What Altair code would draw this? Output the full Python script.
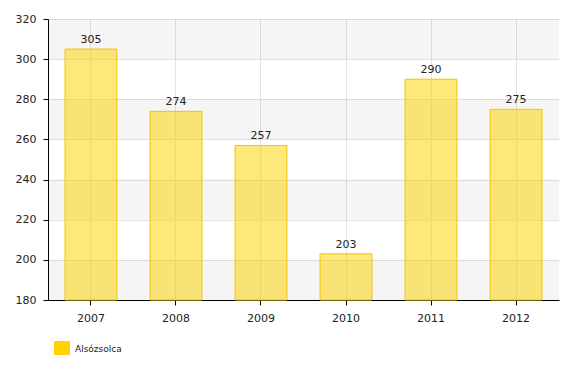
import altair as alt
import pandas as pd

years = ["2007", "2008", "2009", "2010", "2011", "2012"]
values = [305, 274, 257, 203, 290, 275]
series_name = "Alsózsolca"
y_ticks = [180, 200, 220, 240, 260, 280, 300, 320]
band_lo = [180, 220, 260, 300]
band_hi = [200, 240, 280, 320]
y_min = 180

df = pd.DataFrame({"year": years, "value": values, "series": [series_name] * len(years)})
bands = pd.DataFrame({"lo": band_lo, "hi": band_hi})

FONT = "DejaVu Sans"

yscale = alt.Scale(domain=[180, 320], zero=False, nice=False)
xscale = alt.Scale(paddingInner=0.39, paddingOuter=0.2)

band_layer = alt.Chart(bands).mark_rect(color="#000000", opacity=0.04).encode(
    y=alt.Y("lo:Q", scale=yscale),
    y2="hi:Q",
)

bars = alt.Chart(df).mark_bar(fillOpacity=0.52, stroke="#F2C500", strokeWidth=1).encode(
    x=alt.X("year:N", scale=xscale, sort=years,
            axis=alt.Axis(title=None, labelAngle=0, grid=True, bandPosition=0.5,
                          domainColor="#000000", tickColor="#000000", tickSize=5,
                          labelPadding=7, labelFontSize=11, labelFont=FONT,
                          labelColor="#222222", gridColor="#E3E3E3")),
    y=alt.Y("value:Q", scale=yscale,
            axis=alt.Axis(title=None, values=y_ticks, domainColor="#000000",
                          tickColor="#000000", tickSize=5, labelPadding=7,
                          labelFontSize=11, labelFont=FONT, labelColor="#222222",
                          gridColor="#E3E3E3")),
    y2=alt.datum(y_min),
    color=alt.Color("series:N",
                    scale=alt.Scale(domain=[series_name], range=["#FFD200"]),
                    legend=alt.Legend(title=None, orient="none", legendX=6, legendY=322,
                                      symbolType="square", symbolSize=256,
                                      symbolOpacity=1, symbolStrokeWidth=0,
                                      labelFontSize=9, labelFont=FONT,
                                      labelColor="#222222", labelOffset=5, padding=0)),
)

labels = alt.Chart(df).mark_text(dy=-6, baseline="alphabetic", fontSize=11, font=FONT,
                                 color="#222222").encode(
    x=alt.X("year:N", scale=xscale, sort=years),
    y=alt.Y("value:Q", scale=yscale),
    text="value:Q",
)

chart = alt.layer(band_layer, bars, labels).properties(
    width=511,
    height=281,
    padding={"left": 40, "top": 11, "right": 10, "bottom": 55},
    autosize=alt.AutoSizeParams(type="none"),
).configure_view(stroke=None).configure_axis(domainWidth=1)

chart.save("out.html", embed_options={"renderer": "svg", "actions": False})
